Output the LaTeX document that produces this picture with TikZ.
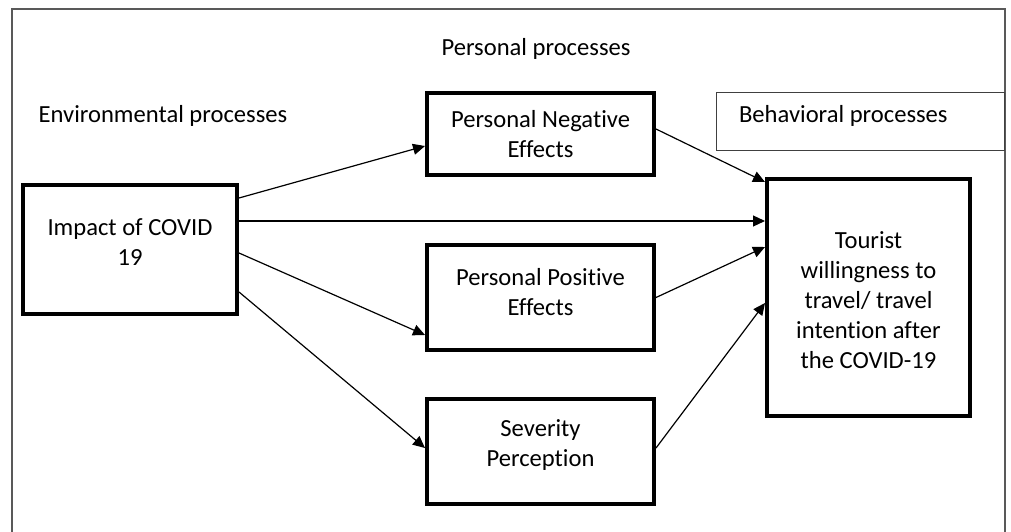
\documentclass[tikz,border=0pt]{standalone}
\usepackage{fontspec}
\setmainfont{Carlito}[Ligatures=NoCommon]
\usetikzlibrary{arrows.meta,calc}

\tikzset{
  procbox/.style={draw,line width=2pt,minimum width=113.5pt},
  boxtext/.style={align=center},
  link/.style={->,line width=0.6pt},
}

\begin{document}
\begin{tikzpicture}[x=0.5pt,y=0.5pt,>={Triangle[length=6pt,width=5.5pt]},
  font=\fontsize{12.3}{15}\selectfont]
\useasboundingbox (0,0) rectangle (1011,531);
\draw[line width=1pt,black!65] (12,-4) -- (12,522) -- (1005,522) -- (1005,-4);

\node (env) at (163,415) {Environmental processes};
\node (pers) at (536,482) {Personal processes};
\node[draw,black!75,line width=0.5pt,minimum width=144pt,minimum height=29pt] (behav) at (860.5,409.5) {};
\node[anchor=west] (behavtxt) at (732,415) {Behavioral processes};

\node[procbox,minimum width=107pt,minimum height=64.5pt] (impact) at (130,281.5) {};
\node[boxtext] (impacttxt) at (130,288.5) {Impact of COVID\\19};

\node[procbox,minimum height=41pt] (neg) at (540.5,397) {};
\node[boxtext] (negtxt) at (540.5,397) {Personal Negative\\Effects};

\node[procbox,minimum height=52.5pt] (pos) at (540.5,233.5) {};
\node[boxtext] (postxt) at (540.5,238.5) {Personal Positive\\Effects};

\node[procbox,minimum height=52.5pt] (sev) at (540.5,79.5) {};
\node[boxtext] (sevtxt) at (540.5,86) {Severity\\Perception};

\node[procbox,minimum width=101.5pt,minimum height=118.5pt] (tourist) at (868.5,233.5) {};
\node[boxtext] (touristtxt) at (868.5,231) {Tourist\\willingness to\\travel/ travel\\intention after\\the COVID-19};

\draw[link] ($(impact.east)+(0,51.5)$) -- ($(neg.west)+(0,-12)$);
\draw[link] ($(impact.east)+(0,28.5)$) -- ($(tourist.west)+(0,76.5)$);
\draw[link] ($(impact.east)+(0,-3.5)$) -- ($(pos.west)+(0,-37.5)$);
\draw[link] ($(impact.east)+(0,-42.5)$) -- ($(sev.west)+(0,3.5)$);

\draw[link] ($(neg.east)+(0,5)$) -- ($(tourist.west)+(0,115.5)$);
\draw[link] (pos.east) -- ($(tourist.west)+(0,50.5)$);
\draw[link] ($(sev.east)+(0,3.5)$) -- ($(tourist.west)+(0,-5.5)$);
\end{tikzpicture}
\end{document}
